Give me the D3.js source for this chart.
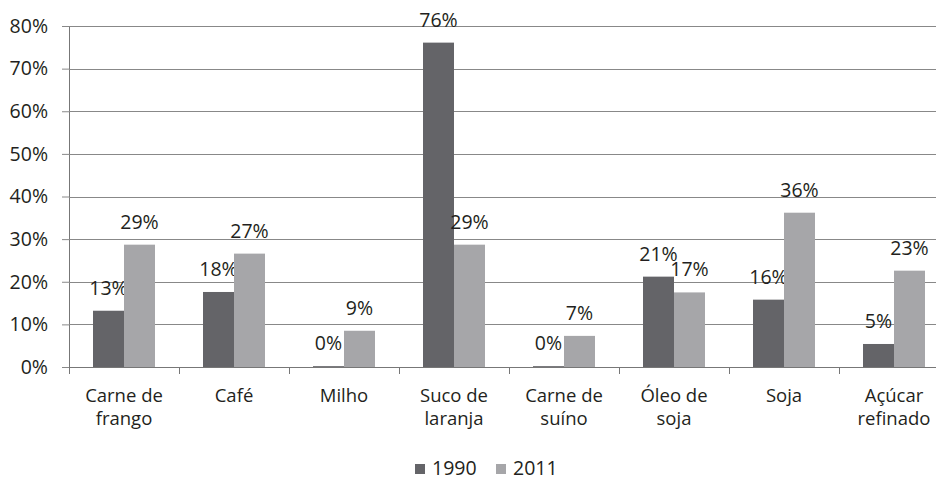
<!DOCTYPE html>
<html>
<head>
<meta charset="utf-8">
<script src="https://cdn.jsdelivr.net/npm/d3@7"></script>
<style>
  body { margin: 0; background: #fff; }
  text { font-family: "Open Sans", "Noto Sans", sans-serif; fill: #231f20; }
</style>
</head>
<body>
<script>
// categories and values (share of exports)
var categories = [['Carne de', 'frango'], ['Café'], ['Milho'], ['Suco de', 'laranja'],
  ['Carne de', 'suíno'], ['Óleo de', 'soja'], ['Soja'], ['Açúcar', 'refinado']];
var values1990 = [0.132, 0.176, 0.002, 0.761, 0.002, 0.212, 0.158, 0.054];
var values2011 = [0.287, 0.266, 0.085, 0.287, 0.073, 0.175, 0.362, 0.226];
var labels1990 = ['13%', '18%', '0%', '76%', '0%', '21%', '16%', '5%'];
var labels2011 = ['29%', '27%', '9%', '29%', '7%', '17%', '36%', '23%'];
var seriesNames = ['1990', '2011'];
var yTicks = [0, 0.1, 0.2, 0.3, 0.4, 0.5, 0.6, 0.7, 0.8];

var width = 936, height = 480;
var colors = ['#646468', '#a6a6a9'];
var barW = 31;
var fs = 19.5;

var svg = d3.select('body').append('svg').attr('width', width).attr('height', height);

var x = d3.scaleBand().domain(d3.range(categories.length)).range([69, 69 + 8 * 110]);
var y = d3.scaleLinear().domain([0, 0.8]).range([367, 26]);

// gridlines + tick labels
var yAxis = svg.append('g').attr('transform', 'translate(69,0)')
  .call(d3.axisLeft(y).tickValues(yTicks).tickFormat(d3.format('.0%')).tickSize(7).tickPadding(14));
yAxis.select('.domain').attr('stroke', '#777');
yAxis.selectAll('.tick line').attr('stroke', '#888');
yAxis.selectAll('.tick text').attr('font-size', fs).attr('font-family', '"Open Sans", sans-serif').attr('fill', '#231f20');

svg.append('g').selectAll('line').data(yTicks.filter(function (d) { return d > 0; }))
  .enter().append('line')
  .attr('x1', 69).attr('x2', width)
  .attr('y1', function (d) { return Math.round(y(d)) + 0.5; })
  .attr('y2', function (d) { return Math.round(y(d)) + 0.5; })
  .attr('stroke', '#888').attr('stroke-width', 1.2);

// bars
var groups = svg.append('g').selectAll('g').data(categories).enter().append('g');
[values1990, values2011].forEach(function (vals, s) {
  var labs = s === 0 ? labels1990 : labels2011;
  groups.append('rect')
    .attr('x', function (d, i) { return x(i) + x.bandwidth() / 2 - barW + s * barW; })
    .attr('y', function (d, i) { return y(vals[i]); })
    .attr('width', barW)
    .attr('height', function (d, i) { return y(0) - y(vals[i]); })
    .attr('fill', colors[s]);
  groups.append('text')
    .attr('x', function (d, i) { return x(i) + x.bandwidth() / 2 - barW / 2 + s * barW; })
    .attr('y', function (d, i) { return y(vals[i]) - 16; })
    .attr('text-anchor', 'middle')
    .attr('font-size', fs)
    .text(function (d, i) { return labs[i]; });
});

// x axis
var xAxis = svg.append('g').attr('transform', 'translate(0,367)');
xAxis.append('line').attr('x1', 69).attr('x2', width).attr('y1', 0.5).attr('y2', 0.5)
  .attr('stroke', '#777').attr('stroke-width', 1.2);
xAxis.selectAll('.tk').data(d3.range(categories.length + 1)).enter().append('line')
  .attr('x1', function (d) { return 69 + d * x.step() + 0.5; })
  .attr('x2', function (d) { return 69 + d * x.step() + 0.5; })
  .attr('y1', 0).attr('y2', 7).attr('stroke', '#777');

var catText = svg.append('g').selectAll('text').data(categories).enter().append('text')
  .attr('text-anchor', 'middle').attr('font-size', 18.5)
  .attr('x', function (d, i) { return x(i) + x.bandwidth() / 2; })
  .attr('y', 402);
catText.selectAll('tspan').data(function (d) { return d; }).enter().append('tspan')
  .attr('x', function () { return d3.select(this.parentNode).attr('x'); })
  .attr('dy', function (d, j) { return j === 0 ? 0 : 23; })
  .text(function (d) { return d; });

// legend
var legend = svg.append('g');
var legX = [415, 496];
seriesNames.forEach(function (name, s) {
  legend.append('rect').attr('x', legX[s]).attr('y', 464).attr('width', 10).attr('height', 10).attr('fill', colors[s]);
  legend.append('text').attr('x', legX[s] + 17).attr('y', 475).attr('font-size', fs).text(name);
});
</script>
</body>
</html>
